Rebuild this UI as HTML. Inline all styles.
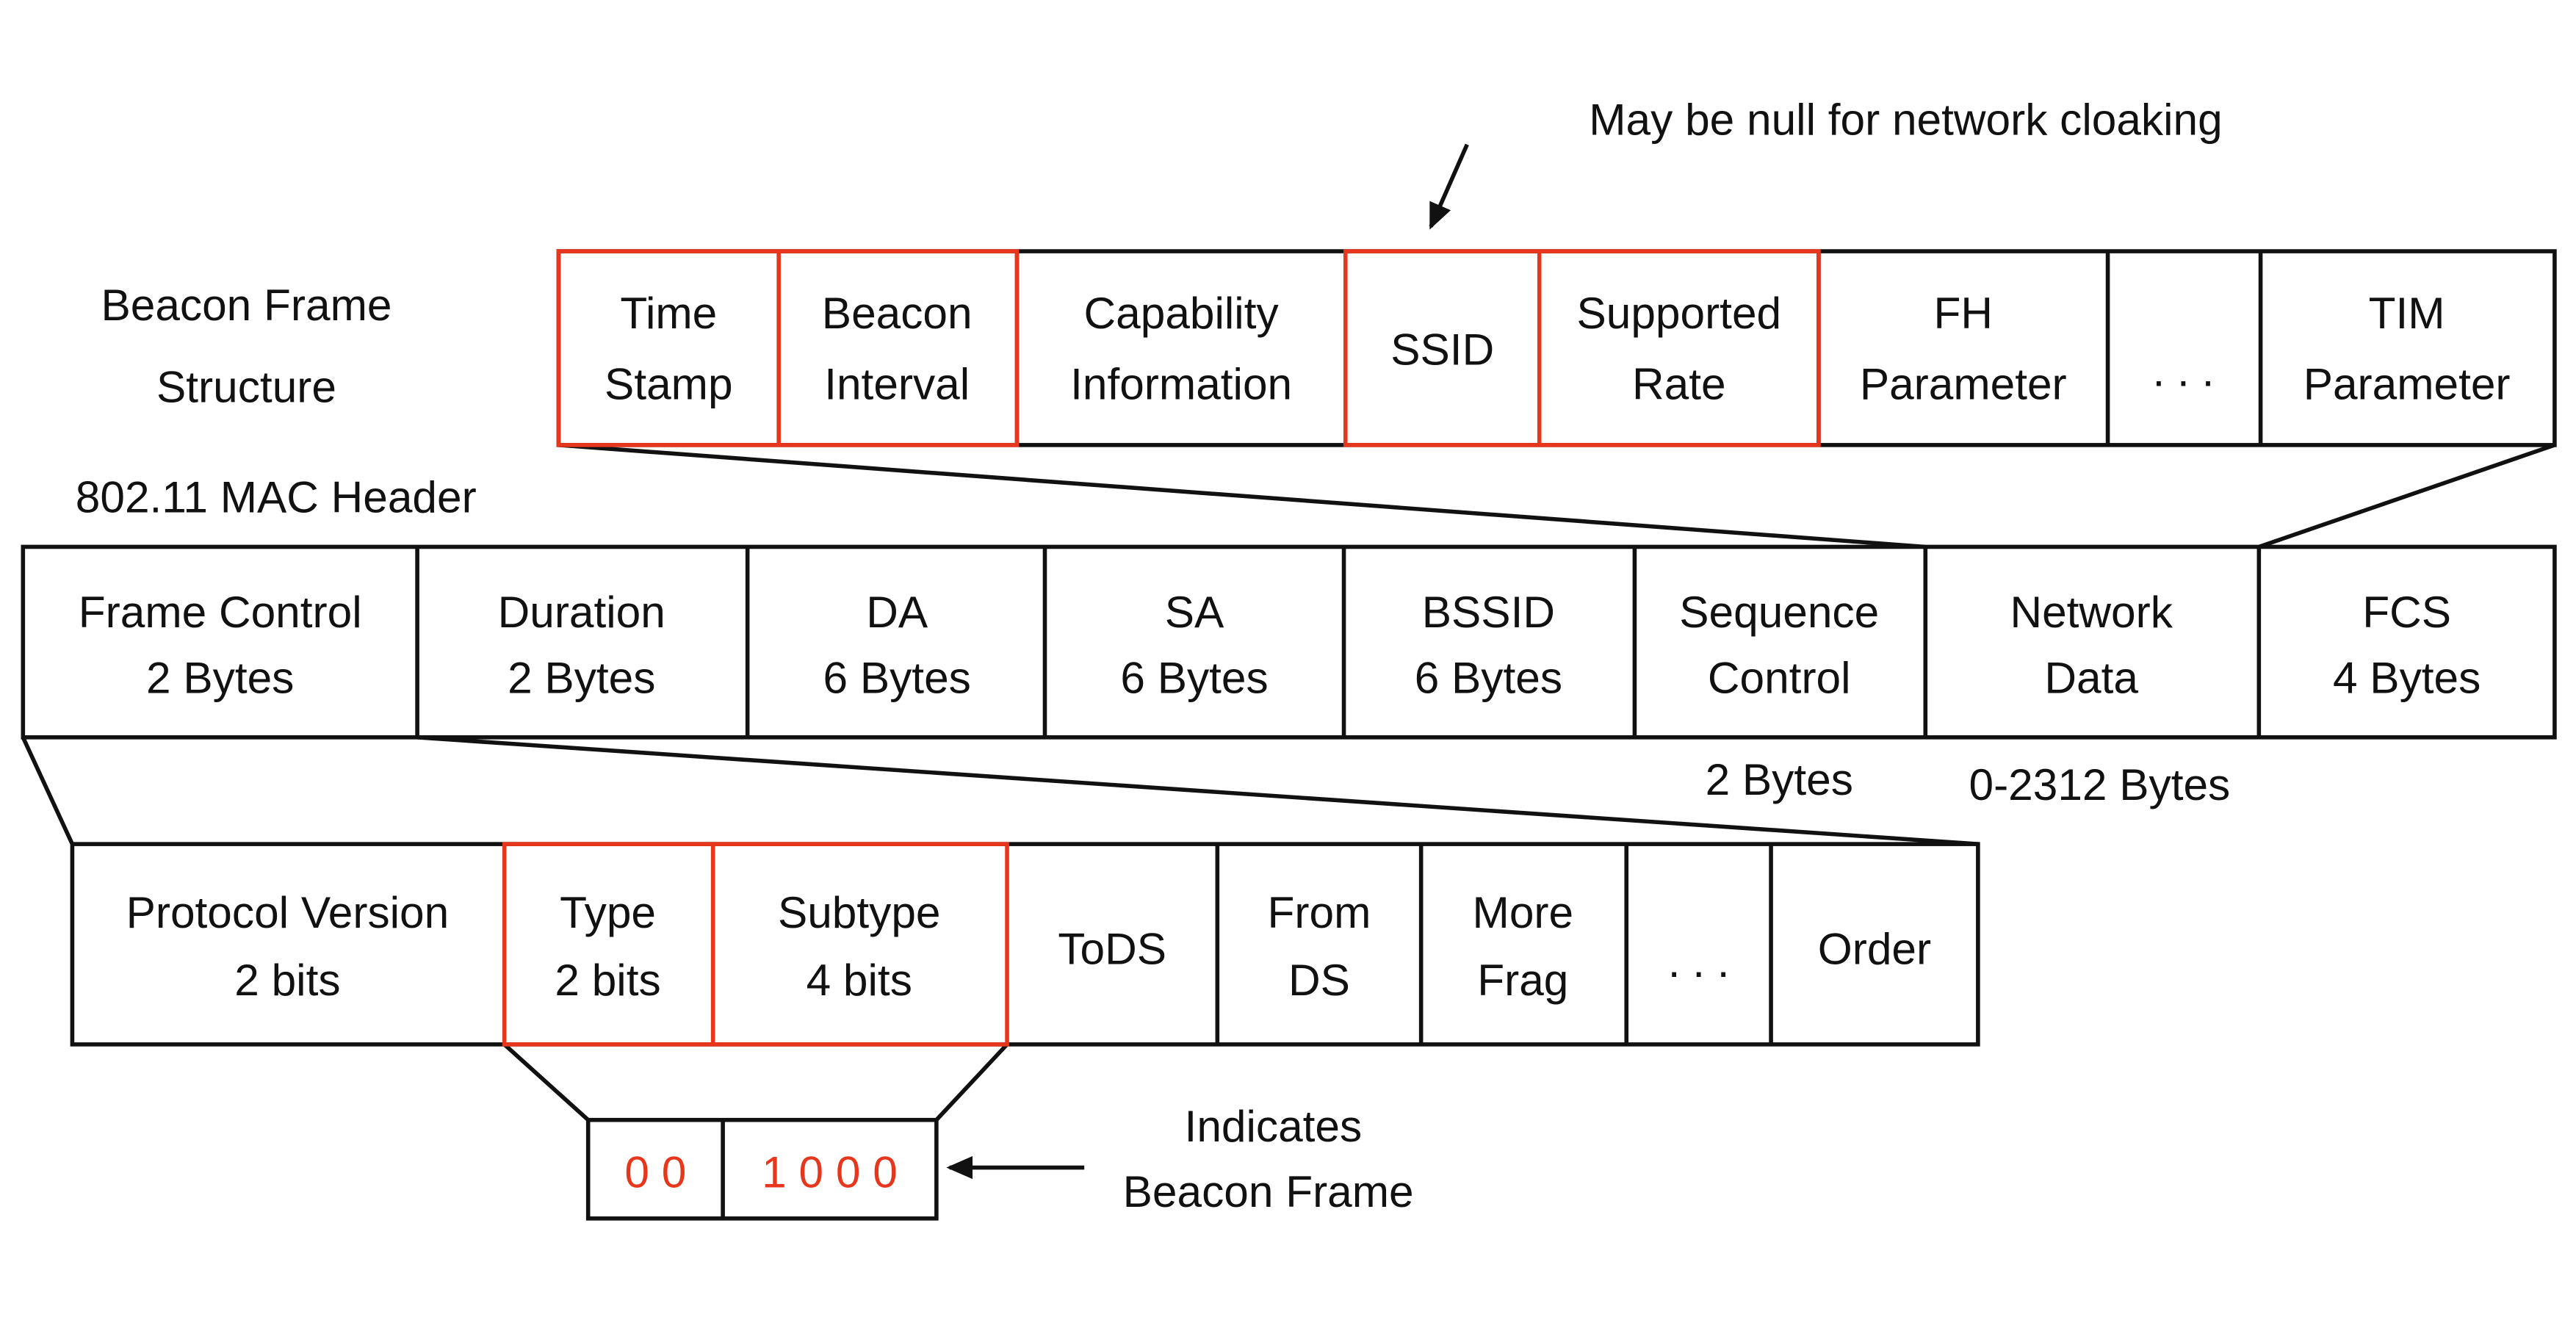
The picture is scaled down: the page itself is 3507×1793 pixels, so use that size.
<!DOCTYPE html>
<html><head><meta charset="utf-8"><style>
html,body{margin:0;padding:0;background:#fff;}
svg{display:block;}
text{font-family:"Liberation Sans",sans-serif;fill:#111;}
</style></head><body>
<svg width="3507" height="1793" viewBox="0 0 1568 802" preserveAspectRatio="none" xmlns="http://www.w3.org/2000/svg">
<defs><marker id="ah" markerUnits="userSpaceOnUse" markerWidth="16" markerHeight="14" refX="14" refY="7" orient="auto"><path d="M0,0 L16,7 L0,14 z" fill="#111"/></marker></defs>
<g stroke="#111" stroke-width="2.5" fill="none">
<rect x="340" y="153" width="1215" height="118"/>
<line x1="619" y1="153" x2="619" y2="271"/>
<line x1="1107" y1="153" x2="1107" y2="271"/>
<line x1="1283" y1="153" x2="1283" y2="271"/>
<line x1="1376" y1="153" x2="1376" y2="271"/>
<rect x="14" y="333" width="1541" height="116"/>
<line x1="254" y1="333" x2="254" y2="449"/>
<line x1="455" y1="333" x2="455" y2="449"/>
<line x1="636" y1="333" x2="636" y2="449"/>
<line x1="818" y1="333" x2="818" y2="449"/>
<line x1="995" y1="333" x2="995" y2="449"/>
<line x1="1172" y1="333" x2="1172" y2="449"/>
<line x1="1375" y1="333" x2="1375" y2="449"/>
<rect x="44" y="514" width="1160" height="122"/>
<line x1="741" y1="514" x2="741" y2="636"/>
<line x1="865" y1="514" x2="865" y2="636"/>
<line x1="990" y1="514" x2="990" y2="636"/>
<line x1="1078" y1="514" x2="1078" y2="636"/>
<rect x="358" y="682" width="212" height="60"/>
<line x1="440" y1="682" x2="440" y2="742"/>
<line x1="340" y1="271" x2="1172" y2="333"/>
<line x1="1555" y1="271" x2="1375" y2="333"/>
<line x1="14" y1="449" x2="44" y2="514"/>
<line x1="254" y1="449" x2="1204" y2="514"/>
<line x1="307" y1="636" x2="358" y2="682"/>
<line x1="613" y1="636" x2="570" y2="682"/>
<line x1="660" y1="711" x2="578" y2="711" marker-end="url(#ah)"/>
<line x1="893" y1="88" x2="871" y2="138" marker-end="url(#ah)"/>
</g>
<g stroke="#e8361c" stroke-width="2.5" fill="none">
<rect x="340" y="153" width="279" height="118"/>
<line x1="474" y1="153" x2="474" y2="271"/>
<rect x="819" y="153" width="288" height="118"/>
<line x1="937" y1="153" x2="937" y2="271"/>
<rect x="307" y="514" width="306" height="122"/>
<line x1="434" y1="514" x2="434" y2="636"/>
</g>
<g font-size="27" text-anchor="middle">
<text x="150" y="195">Beacon Frame</text>
<text x="150" y="245">Structure</text>
<text x="1160" y="82">May be null for network cloaking</text>
<text x="407" y="200">Time</text><text x="407" y="243">Stamp</text>
<text x="546" y="200">Beacon</text><text x="546" y="243">Interval</text>
<text x="719" y="200">Capability</text><text x="719" y="243">Information</text>
<text x="878" y="222">SSID</text>
<text x="1022" y="200">Supported</text><text x="1022" y="243">Rate</text>
<text x="1195" y="200">FH</text><text x="1195" y="243">Parameter</text>
<text x="1329" y="235">. . .</text>
<text x="1465" y="200">TIM</text><text x="1465" y="243">Parameter</text>
<text x="168" y="312">802.11 MAC Header</text>
<text x="134" y="382">Frame Control</text><text x="134" y="422">2 Bytes</text>
<text x="354" y="382">Duration</text><text x="354" y="422">2 Bytes</text>
<text x="546" y="382">DA</text><text x="546" y="422">6 Bytes</text>
<text x="727" y="382">SA</text><text x="727" y="422">6 Bytes</text>
<text x="906" y="382">BSSID</text><text x="906" y="422">6 Bytes</text>
<text x="1083" y="382">Sequence</text><text x="1083" y="422">Control</text>
<text x="1273" y="382">Network</text><text x="1273" y="422">Data</text>
<text x="1465" y="382">FCS</text><text x="1465" y="422">4 Bytes</text>
<text x="1083" y="484">2 Bytes</text>
<text x="1278" y="487">0-2312 Bytes</text>
<text x="175" y="565">Protocol Version</text><text x="175" y="606">2 bits</text>
<text x="370" y="565">Type</text><text x="370" y="606">2 bits</text>
<text x="523" y="565">Subtype</text><text x="523" y="606">4 bits</text>
<text x="677" y="587">ToDS</text>
<text x="803" y="565">From</text><text x="803" y="606">DS</text>
<text x="927" y="565">More</text><text x="927" y="606">Frag</text>
<text x="1034" y="595">. . .</text>
<text x="1141" y="587">Order</text>
<text x="775" y="695">Indicates</text>
<text x="772" y="735">Beacon Frame</text>
<text x="399" y="723" style="fill:#e8361c">0 0</text>
<text x="505" y="723" style="fill:#e8361c">1 0 0 0</text>
</g>
</svg>
</body></html>
